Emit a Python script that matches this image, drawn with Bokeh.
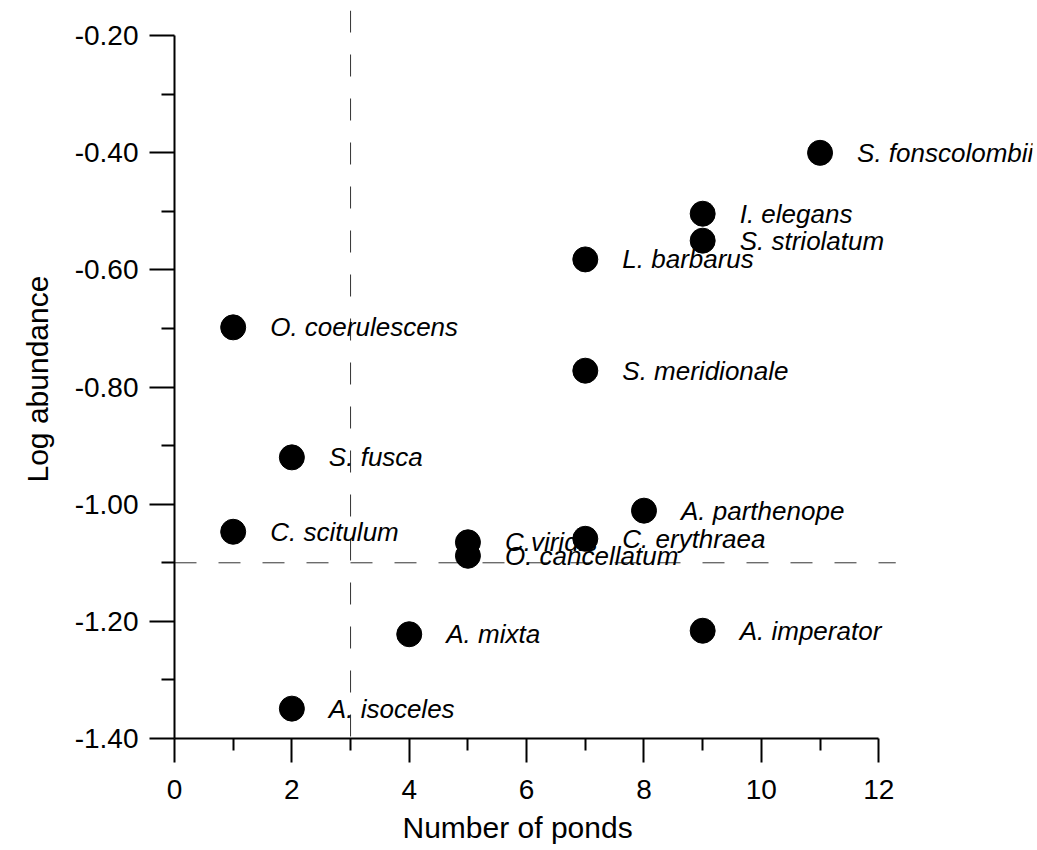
from bokeh.plotting import figure
from bokeh.models import Span, ColumnDataSource, NumeralTickFormatter, FixedTicker, Title
from bokeh.core.properties import value
from bokeh.embed import file_html
from bokeh.resources import INLINE

species = ["S. fonscolombii", "I. elegans", "S. striolatum", "L. barbarus",
           "O. coerulescens", "S. meridionale", "S. fusca", "C. scitulum",
           "A. parthenope", "C.viridis", "C. erythraea", "O. cancellatum",
           "A. mixta", "A. imperator", "A. isoceles"]
ponds = [11, 9, 9, 7, 1, 7, 2, 1, 8, 5, 7, 5, 4, 9, 2]
log_abund = [-0.400, -0.504, -0.550, -0.582, -0.698, -0.772, -0.920, -1.047,
             -1.011, -1.065, -1.059, -1.088, -1.222, -1.216, -1.349]

pond_threshold = 3
abund_threshold = -1.10

x_ticks = [0, 2, 4, 6, 8, 10, 12]
y_ticks = [-1.4, -1.2, -1.0, -0.8, -0.6, -0.4, -0.2]
x_title = "Number of ponds"
y_title = "Log abundance"

FONT = "Liberation Sans"

# axes span 0..12 and -1.4..-0.2; frame is wider so that labels are not clipped
X_AXIS_END = 12.29
p = figure(width=1037, height=850, output_backend="svg", toolbar_location=None,
           x_range=(0, 14.62), y_range=(-1.4, -0.157),
           min_border_left=174, min_border_right=5,
           min_border_top=10, min_border_bottom=112)
p.outline_line_color = None
p.grid.visible = False
p.background_fill_color = "white"
p.border_fill_color = "white"

src = ColumnDataSource(dict(x=ponds, y=log_abund, name=species))

p.text(x="x", y="y", text="name", source=src, x_offset=37,
       text_font=value(FONT), text_font_style="italic", text_font_size="26px",
       text_baseline="middle", text_align="left", text_color="black")

p.add_layout(Span(location=pond_threshold, dimension="height", line_color="#333333",
                  line_width=1, line_dash="22 22", level="underlay"))
p.line(x=[0, X_AXIS_END], y=[abund_threshold, abund_threshold], line_color="#333333",
       line_width=1, line_dash="22 22", level="underlay")

p.scatter(x="x", y="y", source=src, size=25, marker="circle",
          fill_color="black", line_color="black")

for ax in (p.xaxis[0], p.yaxis[0]):
    ax.axis_line_width = 2
    ax.major_tick_line_width = 2
    ax.minor_tick_line_width = 2
    ax.major_tick_in = 0
    ax.minor_tick_in = 0
    ax.major_label_text_font = FONT
    ax.major_label_text_font_size = "28px"
    ax.major_label_text_color = "black"
    ax.axis_line_color = "black"
    ax.major_tick_line_color = "black"
    ax.minor_tick_line_color = "black"

xa = p.xaxis[0]
xa.bounds = (0, 12)
xa.ticker = FixedTicker(ticks=x_ticks, minor_ticks=[1, 3, 5, 7, 9, 11])
xa.major_tick_out = 24
xa.minor_tick_out = 12
xa.major_label_standoff = 17

ya = p.yaxis[0]
ya.bounds = (-1.4, -0.2)
ya.ticker = FixedTicker(ticks=y_ticks, minor_ticks=[-1.3, -1.1, -0.9, -0.7, -0.5, -0.3])
ya.formatter = NumeralTickFormatter(format="0.00")
ya.major_tick_out = 25
ya.minor_tick_out = 13
ya.major_label_standoff = 11

# axis titles, shifted so that they are centred on the axis extent
p.add_layout(Title(text=x_title, align="left", offset=228, standoff=14,
                   text_font=FONT, text_font_size="30px", text_font_style="normal",
                   text_color="black"), "below")
p.add_layout(Title(text=y_title, align="left", offset=256, standoff=36,
                   text_font=FONT, text_font_size="30px", text_font_style="normal",
                   text_color="black"), "left")

open("out.html", "w").write(file_html(p, INLINE))
